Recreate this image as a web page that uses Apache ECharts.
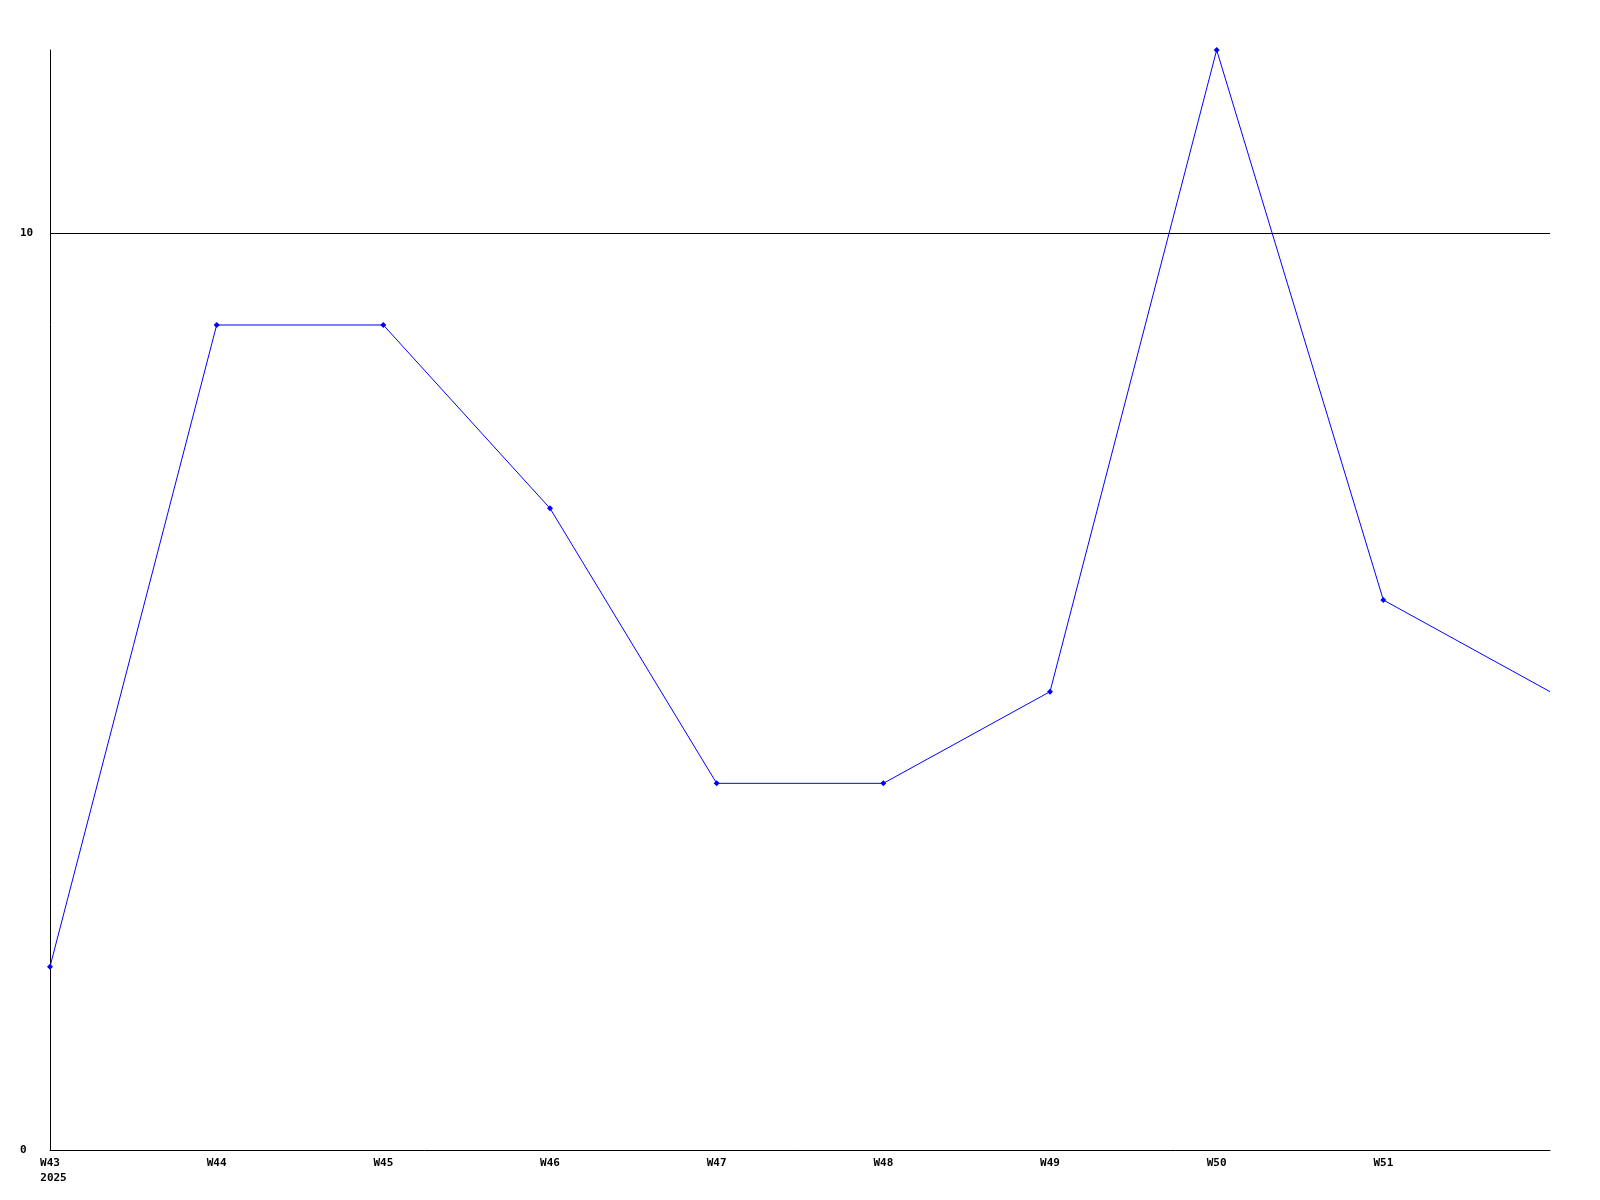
<!DOCTYPE html>
<html>
<head>
<meta charset="utf-8">
<script src="https://cdn.jsdelivr.net/npm/echarts@6/dist/echarts.min.js"></script>
<style>html,body{margin:0;padding:0;background:#fff}#c{width:1600px;height:1200px}</style>
</head>
<body>
<div id="c"></div>
<script>
var categories = ['W43','W44','W45','W46','W47','W48','W49','W50','W51','W52'];
var values = [2, 9, 9, 7, 4, 4, 5, 12, 6, 5];
var yearLabel = '2025';
var yTicks = [0, 10];

var chart = echarts.init(document.getElementById('c'), null, {renderer: 'canvas'});
var font = 'DejaVu Sans Mono';
var seriesData = values.map(function (v, i) {
  return i === values.length - 1 ? {value: v, symbol: 'none'} : v;
});
chart.setOption({
  animation: false,
  backgroundColor: '#ffffff',
  grid: {left: 50, right: 50, top: 50, bottom: 50, containLabel: false},
  xAxis: {
    type: 'category',
    data: categories,
    boundaryGap: false,
    axisLine: {show: true, lineStyle: {color: '#000', width: 1}},
    axisTick: {show: false},
    splitLine: {show: false},
    axisLabel: {
      show: true,
      margin: 6,
      showMaxLabel: false,
      interval: 0,
      fontFamily: font,
      fontWeight: 'bold',
      fontSize: 11,
      color: '#000',
      lineHeight: 15,
      formatter: function (v, i) {
        if (i === categories.length - 1) return '';
        if (i === 0) return '{a|' + v + '}\n{b|' + yearLabel + '}';
        return v;
      },
      rich: {
        a: {fontFamily: font, fontWeight: 'bold', fontSize: 11, color: '#000', lineHeight: 15},
        b: {fontFamily: font, fontWeight: 'bold', fontSize: 11, color: '#000', lineHeight: 15, padding: [0, 0, 0, 7]}
      }
    }
  },
  yAxis: {
    type: 'value',
    min: yTicks[0],
    max: 12,
    interval: yTicks[1] - yTicks[0],
    axisLine: {show: true, lineStyle: {color: '#000', width: 1}},
    axisTick: {show: false},
    splitLine: {show: true, showMinLine: false, showMaxLine: false, lineStyle: {color: '#000', width: 1}},
    axisLabel: {
      show: true,
      align: 'left',
      margin: 30,
      showMaxLabel: false,
      fontFamily: font,
      fontWeight: 'bold',
      fontSize: 11,
      color: '#000',
      formatter: function (v) { return yTicks.indexOf(v) >= 0 ? String(v) : ''; }
    }
  },
  series: [{
    type: 'line',
    data: seriesData,
    symbol: 'diamond',
    symbolSize: 6,
    showSymbol: true,
    lineStyle: {color: '#0000ff', width: 1},
    itemStyle: {color: '#0000ff'},
    emphasis: {disabled: true}
  }]
});
</script>
</body>
</html>
